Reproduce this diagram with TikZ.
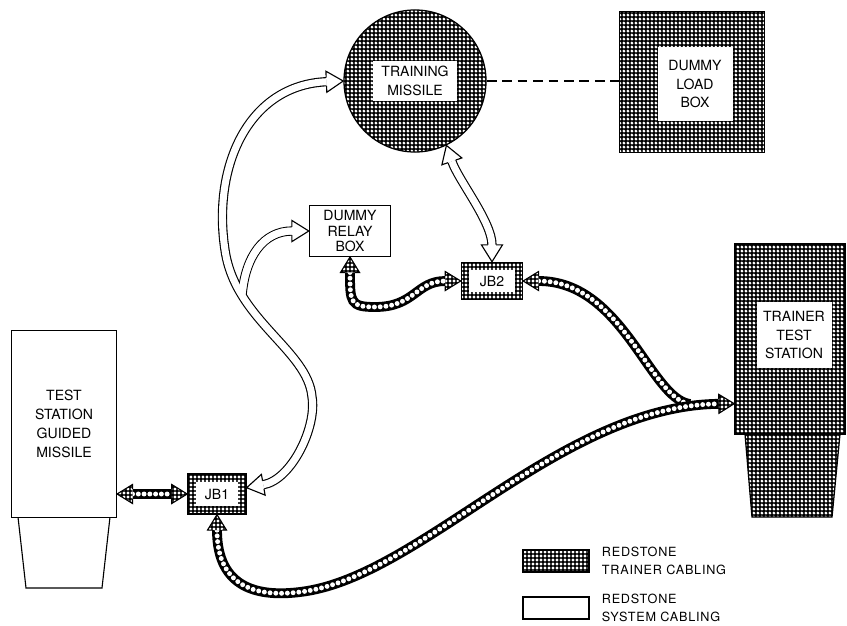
\documentclass[tikz,border=0pt]{standalone}
\usepackage{fontspec}
\setmainfont{TeX Gyre Heros}
\newfontfamily\keyfont[LetterSpace=6]{TeX Gyre Heros}
\usetikzlibrary{patterns,decorations.markings,positioning}

\pgfdeclarepatternformonly{whitedots}{\pgfpointorigin}{\pgfqpoint{2.8pt}{2.8pt}}{\pgfqpoint{2.8pt}{2.8pt}}{%
  \pgfpathcircle{\pgfqpoint{1.4pt}{1.4pt}}{1.15pt}%
  \pgfusepath{fill}}

\newcommand\meshtip{%
  \path[preaction={fill=black}, pattern=whitedots, pattern color=white]
    (0,0) -- (-11pt,6.75pt) -- (-11pt,-6.75pt) -- cycle;
  \draw[black, solid, line width=0.8pt, shorten <=0pt, shorten >=0pt, line join=miter]
    (-11pt,3.5pt) -- (-11pt,6.75pt) -- (0,0) -- (-11pt,-6.75pt) -- (-11pt,-3.5pt);}
\newcommand\systip{%
  \fill[white] (0,0) -- (-12pt,7.5pt) -- (-12pt,-7.5pt) -- cycle;
  \draw[black, solid, line width=0.8pt, shorten <=0pt, shorten >=0pt, line join=miter]
    (-12pt,2.9pt) -- (-12pt,7.5pt) -- (0,0) -- (-12pt,-7.5pt) -- (-12pt,-2.9pt);}

\tikzset{
  meshbox/.style={draw=black, line width=0.9pt, preaction={fill=black}, pattern=whitedots, pattern color=white},
  plainbox/.style={draw=black, line width=0.8pt, fill=white},
  hole/.style={fill=white, inner sep=0pt, align=center},
  keytext/.style={align=left, inner sep=0pt, font=\keyfont\fontsize{9}{12.8}\selectfont},
  tiphead/.style={postaction={decorate, decoration={markings, mark=at position -0.1pt with {#1}}}},
  tiptail/.style={postaction={decorate, decoration={markings, mark=at position 0 with {\pgftransformrotate{180}#1}}}},
  meshcable/.style={draw=black, line width=7pt,
    postaction={draw=white, line width=3.5pt, line cap=round, dash pattern=on 0pt off 4.1pt}},
  meshhead/.style={tiphead=\meshtip, shorten >=11pt},
  meshtail/.style={tiptail=\meshtip, shorten <=11pt},
  syscable/.style={draw=black, line width=6.6pt, postaction={draw=white, line width=5pt}},
  syshead/.style={tiphead=\systip, shorten >=12pt},
  systail/.style={tiptail=\systip, shorten <=12pt}
}

\begin{document}
\begin{tikzpicture}[x=0.025cm, y=-0.025cm, font=\fontsize{10}{13.5}\selectfont]
  \useasboundingbox (0,0) rectangle (847,625);

  % units
  \node[meshbox, circle, minimum size=3.55cm] (missile) at (415,81) {};
  \node[hole, minimum width=2.1cm, minimum height=1cm] (missiletext) at (missile) {TRAINING\\MISSILE};
  \node[meshbox, minimum width=3.625cm, minimum height=3.525cm] (loadbox) at (692,82) {};
  \node[hole, minimum width=1.875cm, minimum height=1.825cm] (loadtext) at (695,84) {DUMMY\\LOAD\\BOX};
  \node[plainbox, align=center, minimum width=2.025cm, minimum height=1.25cm,
    font=\fontsize{10}{11}\selectfont] (relaybox) at (350,231) {DUMMY\\RELAY\\BOX};
  \node[meshbox, minimum width=1.525cm, minimum height=0.925cm] (jb2) at (492,281) {};
  \node[hole, minimum width=1.15cm, minimum height=0.55cm] (jb2text) at (jb2) {JB2};
  \node[meshbox, minimum width=1.45cm, minimum height=1cm] (jb1) at (217,494) {};
  \node[hole, minimum width=1.05cm, minimum height=0.6cm] (jb1text) at (jb1) {JB1};

  \draw[meshbox] (745,434) -- (840,434) -- (832,517) -- (752,517) -- cycle;
  \node[meshbox, minimum width=2.75cm, minimum height=4.75cm] (trainer) at (790,339) {};
  \node[hole, minimum width=1.875cm, minimum height=1.65cm] (trainertext) at (794,335) {TRAINER\\TEST\\STATION};

  \draw[plainbox] (18,517) -- (110,517) -- (102,588) -- (26,588) -- cycle;
  \node[plainbox, align=center, minimum width=2.625cm, minimum height=4.675cm] (station) at (64,424)
    {TEST\\STATION\\GUIDED\\MISSILE};

  \draw[line width=0.8pt, dash pattern=on 7pt off 4pt] (missile.east) -- (missile.east -| loadbox.west);

  % system cabling
  \coordinate (split) at (242,296);
  \draw[syscable, syshead] (split) .. controls +(3,-40) and +(-45,0) .. (relaybox.west);
  \draw[syscable, syshead, systail] (jb1.12) .. controls +(45,-8) and +(5,30) .. (312,397)
    .. controls +(-4,-47) and +(10,70) .. (225,250)
    .. controls +(-13,-85) and +(-94,4) .. (missile.west);
  \draw[white, line width=5pt, shorten >=12pt] (split) .. controls +(3,-40) and +(-45,0) .. (relaybox.west);
  \draw[syscable, syshead, systail] (missile.-64) .. controls +(12,35) and +(0,-40) .. (jb2.north);

  % trainer cabling
  \coordinate (trainerin) at ([yshift=0.775cm]trainer.south west);
  \coordinate (merge) at (690,404);
  \draw[meshcable, meshhead, meshtail] (station.east |- jb1.west) -- (jb1.west);
  \draw[meshcable, meshtail] (jb2.east) .. controls +(100,0) and +(-40,-5) .. (merge);
  \draw[meshcable, meshhead, meshtail] (jb1.south) .. controls +(0,75) and +(-40,5) .. (300,592)
    .. controls +(120,-14) and +(-175,2) .. (trainerin);
  \draw[meshcable, meshhead, meshtail] (relaybox.south) .. controls +(0,45) and +(-25,0) .. (375,307)
    .. controls +(40,0) and +(-45,0) .. (jb2.west);

  % key
  \node[meshbox, minimum width=1.65cm, minimum height=0.55cm] (keymesh) at (556,561) {};
  \node[keytext, right=0.3cm of keymesh] (keymeshtext) {REDSTONE\\TRAINER CABLING};
  \node[plainbox, minimum width=1.65cm, minimum height=0.55cm] (keysys) at (556,608) {};
  \node[keytext, right=0.3cm of keysys] (keysystext) {REDSTONE\\SYSTEM CABLING};
\end{tikzpicture}
\end{document}
